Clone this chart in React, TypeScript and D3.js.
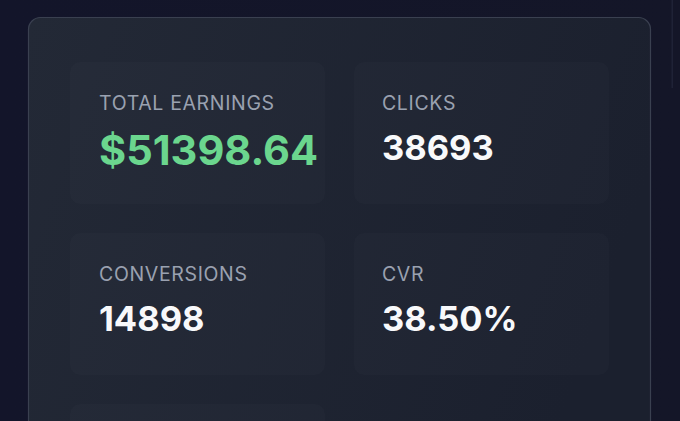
import React from "react";
import * as d3 from "d3";

const labels = ["TOTAL EARNINGS", "CLICKS", "CONVERSIONS", "CVR"];
const values = ["$51398.64", "38693", "14898", "38.50%"];
const highlight = [true, false, false, false];
const tileSlots = [0, 1, 2, 3, 4];

const W = 680;
const H = 421;

export default function App() {
  const col = d3.scaleBand<number>().domain([0, 1]).range([70, 609]).paddingInner(0.102);
  const row = d3.scaleBand<number>().domain([0, 1, 2]).range([62, 62 + 171 * 3 - 29]).paddingInner(0.17);
  const bw = col.bandwidth();
  const bh = row.bandwidth();
  const font = "Inter, 'Noto Sans', sans-serif";

  return (
    <svg
      width={W}
      height={H}
      viewBox={`0 0 ${W} ${H}`}
      style={{ position: "fixed", top: 0, left: 0, display: "block" }}
    >
      <defs>
        <linearGradient id="cardGrad" x1="0" y1="0" x2="1" y2="0.3">
          <stop offset="0%" stopColor="#232936" />
          <stop offset="100%" stopColor="#1b202e" />
        </linearGradient>
        <linearGradient id="bgGrad" x1="0" y1="0" x2="1" y2="0">
          <stop offset="0%" stopColor="#13152a" />
          <stop offset="100%" stopColor="#141628" />
        </linearGradient>
      </defs>
      <rect x={0} y={0} width={W} height={H} fill="url(#bgGrad)" />
      <rect x={671.5} y={0} width={1.5} height={88} fill="#1f2236" />
      <rect
        x={28.5}
        y={17.5}
        width={622}
        height={520}
        rx={12}
        fill="url(#cardGrad)"
        stroke="#3a4050"
        strokeWidth={1.2}
      />
      {tileSlots.map((i) => (
        <rect
          key={i}
          x={col(i % 2)!}
          y={row(Math.floor(i / 2))!}
          width={bw}
          height={bh}
          rx={10}
          fill="#ffffff"
          fillOpacity={0.014}
        />
      ))}
      {labels.map((lab, i) => {
        const x0 = col(i % 2)! + 29 - (i % 2);
        const y0 = row(Math.floor(i / 2))!;
        const big = highlight[i];
        return (
          <g key={lab}>
            <text
              x={x0}
              y={y0 + 48}
              fontFamily={font}
              fontSize={19.5}
              letterSpacing={0.65}
              fill="#9aa1b0"
              fontWeight={400}
            >
              {lab}
            </text>
            <text
              x={x0}
              y={y0 + (big ? 103 : 98)}
              fontFamily={font}
              fontSize={big ? 41.5 : 34.5}
              fontWeight={700}
              fill={big ? "#6bd68e" : "#f8f9fb"}
            >
              {values[i]}
            </text>
          </g>
        );
      })}
    </svg>
  );
}
